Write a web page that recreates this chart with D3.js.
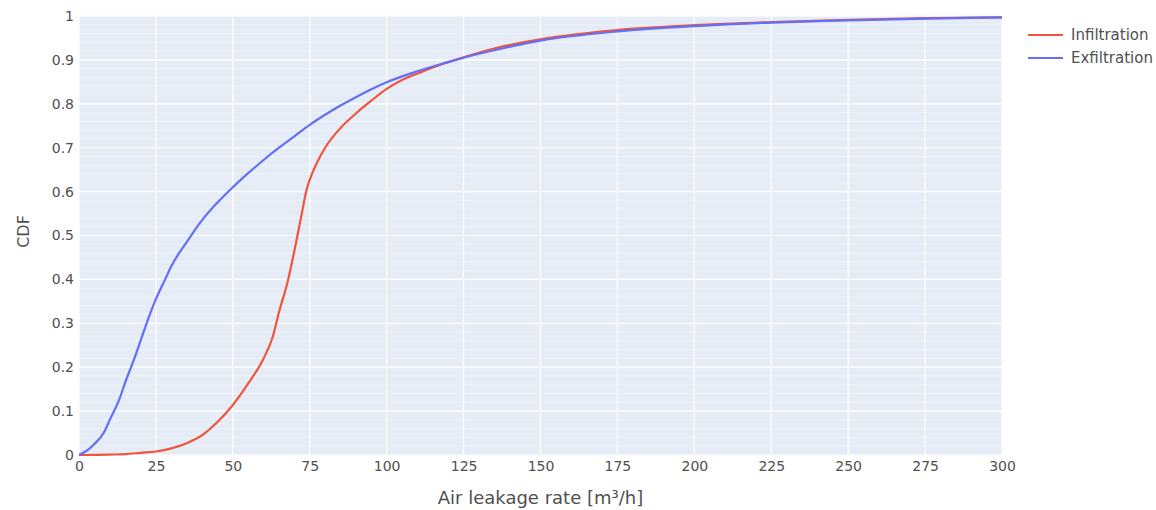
<!DOCTYPE html>
<html>
<head>
<meta charset="utf-8">
<title>CDF of air leakage rate</title>
<script src="https://d3js.org/d3.v7.min.js"></script>
<style>
  body { margin: 0; background: #fff; }
  svg { font-family: "DejaVu Sans", Verdana, sans-serif; }
  .tick text { fill: #505050; }
</style>
</head>
<body>
<svg id="chart" width="1156" height="510"></svg>
<script>
// air leakage rate [m3/h] and CDF values
var infX = [0, 10, 15, 20, 25, 30, 35, 40, 45, 50, 55, 60, 63, 65, 68, 70, 72, 74, 76, 78, 80, 85, 90, 95, 100, 105, 110, 115, 120, 125, 135, 150, 175, 200, 225, 250, 275, 300];
var infY = [0, 0.001, 0.002, 0.005, 0.008, 0.015, 0.027, 0.045, 0.075, 0.114, 0.163, 0.22, 0.27, 0.325, 0.40, 0.465, 0.535, 0.605, 0.645, 0.675, 0.70, 0.745, 0.778, 0.807, 0.834, 0.854, 0.869, 0.883, 0.895, 0.906, 0.926, 0.947, 0.968, 0.979, 0.986, 0.991, 0.995, 0.997];

var exfX = [0, 3, 5, 8, 10, 13, 15, 18, 20, 23, 25, 28, 30, 35, 40, 45, 50, 55, 60, 65, 70, 75, 80, 85, 90, 95, 100, 110, 120, 125, 135, 150, 175, 200, 225, 250, 275, 300];
var exfY = [0, 0.012, 0.025, 0.05, 0.08, 0.125, 0.165, 0.22, 0.26, 0.32, 0.355, 0.40, 0.43, 0.485, 0.535, 0.575, 0.61, 0.642, 0.672, 0.70, 0.726, 0.752, 0.775, 0.796, 0.815, 0.833, 0.849, 0.874, 0.895, 0.905, 0.922, 0.944, 0.965, 0.977, 0.985, 0.99, 0.994, 0.997];

var xTicks = [0, 25, 50, 75, 100, 125, 150, 175, 200, 225, 250, 275, 300];
var yTicks = [0, 0.1, 0.2, 0.3, 0.4, 0.5, 0.6, 0.7, 0.8, 0.9, 1];
var yMinor = d3.range(0, 1.0001, 0.02);

var seriesNames = ["Infiltration", "Exfiltration"];
var seriesColors = ["#EF553B", "#636EFA"];

var svg = d3.select("#chart");
var margin = {left: 79, right: 154, top: 16, bottom: 55};
var width = 1156 - margin.left - margin.right,
    height = 510 - margin.top - margin.bottom;

var x = d3.scaleLinear().domain([0, 300]).range([0, width]);
var y = d3.scaleLinear().domain([0, 1]).range([height, 0]);

var g = svg.append("g").attr("transform", "translate(" + margin.left + "," + margin.top + ")");

g.append("rect").attr("width", width).attr("height", height).attr("fill", "#E5ECF6");

// minor horizontal grid
g.append("g").selectAll("line").data(yMinor).enter().append("line")
  .attr("x1", 0).attr("x2", width)
  .attr("y1", function(d) { return y(d); }).attr("y2", function(d) { return y(d); })
  .attr("stroke", "#EEF2F9").attr("stroke-width", 1);

// major grid
g.append("g").selectAll("line").data(yTicks).enter().append("line")
  .attr("x1", 0).attr("x2", width)
  .attr("y1", function(d) { return y(d); }).attr("y2", function(d) { return y(d); })
  .attr("stroke", "#fff").attr("stroke-width", 1.2);
g.append("g").selectAll("line").data(xTicks).enter().append("line")
  .attr("y1", 0).attr("y2", height)
  .attr("x1", function(d) { return x(d); }).attr("x2", function(d) { return x(d); })
  .attr("stroke", "#fff").attr("stroke-width", 1.2);

// axes
var xAxis = g.append("g").attr("transform", "translate(0," + height + ")")
  .call(d3.axisBottom(x).tickValues(xTicks).tickSize(0).tickPadding(6));
xAxis.select(".domain").remove();
xAxis.selectAll("text").attr("font-size", 14).attr("font-family", "DejaVu Sans");

var yAxis = g.append("g")
  .call(d3.axisLeft(y).tickValues(yTicks).tickSize(0).tickPadding(5).tickFormat(d3.format("~g")));
yAxis.select(".domain").remove();
yAxis.selectAll("text").attr("font-size", 14).attr("font-family", "DejaVu Sans");

// lines
var line = d3.line()
  .x(function(d) { return x(d[0]); })
  .y(function(d) { return y(d[1]); })
  .curve(d3.curveMonotoneX);

var data = [d3.zip(infX, infY), d3.zip(exfX, exfY)];
data.forEach(function(pts, i) {
  g.append("path").datum(pts)
    .attr("fill", "none")
    .attr("stroke", seriesColors[i])
    .attr("stroke-width", 2.2)
    .attr("stroke-linejoin", "round")
    .attr("d", line);
});

// axis titles
svg.append("text")
  .attr("x", margin.left + width / 2).attr("y", 504)
  .attr("text-anchor", "middle").attr("font-size", 18).attr("fill", "#505050")
  .text("Air leakage rate [m³/h]");
svg.append("text")
  .attr("transform", "translate(29," + (margin.top + height / 2 - 4) + ") rotate(-90)")
  .attr("text-anchor", "middle").attr("font-size", 16).attr("fill", "#505050")
  .text("CDF");

// legend
var legend = svg.append("g").attr("transform", "translate(1028,35)");
seriesNames.forEach(function(name, i) {
  var row = legend.append("g").attr("transform", "translate(0," + (i * 23) + ")");
  row.append("line").attr("x1", 0).attr("x2", 35).attr("y1", 0).attr("y2", 0)
    .attr("stroke", seriesColors[i]).attr("stroke-width", 2.2);
  row.append("text").attr("x", 43).attr("y", 0).attr("dy", "0.35em")
    .attr("font-size", 15).attr("fill", "#505050").text(name);
});
</script>
</body>
</html>
